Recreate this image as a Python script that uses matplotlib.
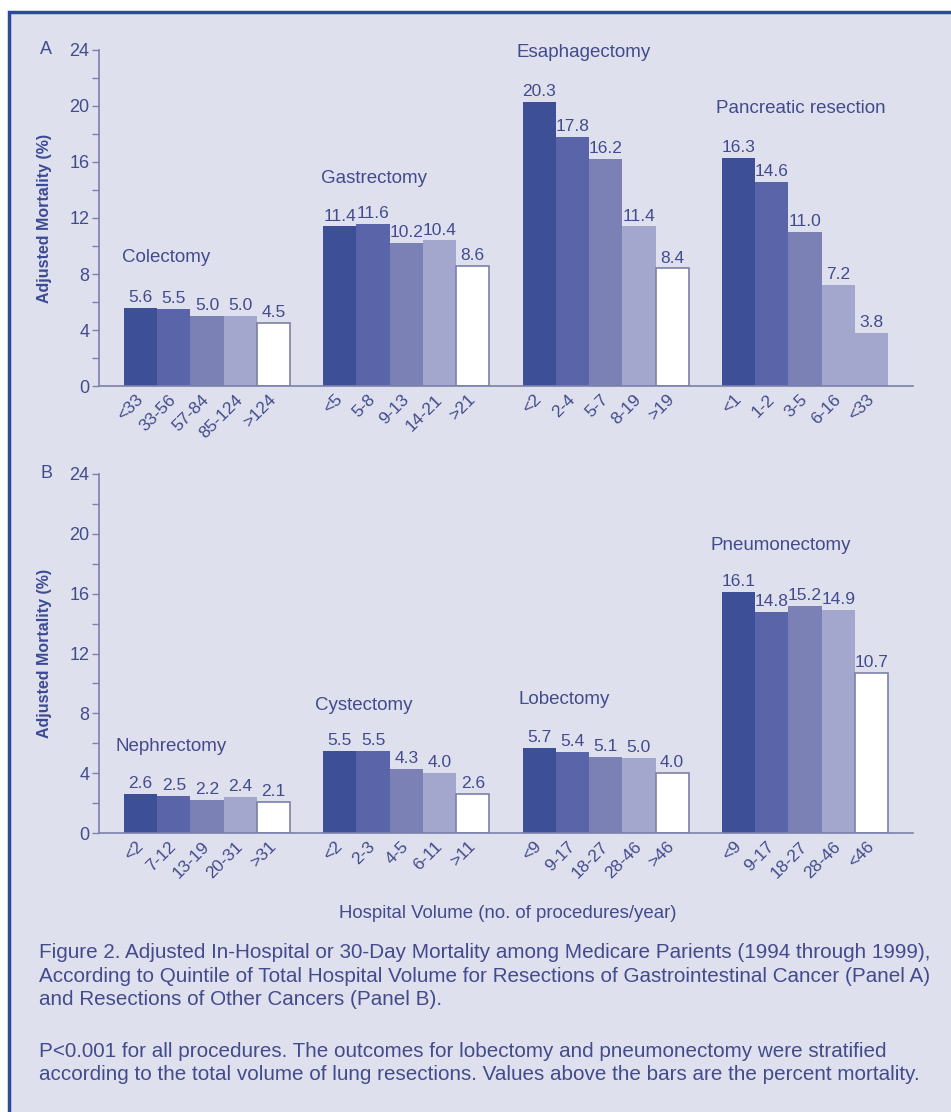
import matplotlib
matplotlib.use("Agg")
import matplotlib.pyplot as plt
import matplotlib.patches as patches
import numpy as np

plt.rcParams['font.family'] = ['Liberation Sans', 'DejaVu Sans']

# panel A - gastrointestinal resections
a_procs = ['Colectomy', 'Gastrectomy', 'Esaphagectomy', 'Pancreatic resection']
a_ticks = [['<33', '33-56', '57-84', '85-124', '>124'],
           ['<5', '5-8', '9-13', '14-21', '>21'],
           ['<2', '2-4', '5-7', '8-19', '>19'],
           ['<1', '1-2', '3-5', '6-16', '<33']]
a_vals = [[5.6, 5.5, 5.0, 5.0, 4.5],
          [11.4, 11.6, 10.2, 10.4, 8.6],
          [20.3, 17.8, 16.2, 11.4, 8.4],
          [16.3, 14.6, 11.0, 7.2, 3.8]]
a_last_white = [True, True, True, False]

# panel B - other cancers
b_procs = ['Nephrectomy', 'Cystectomy', 'Lobectomy', 'Pneumonectomy']
b_ticks = [['<2', '7-12', '13-19', '20-31', '>31'],
           ['<2', '2-3', '4-5', '6-11', '>11'],
           ['<9', '9-17', '18-27', '28-46', '>46'],
           ['<9', '9-17', '18-27', '28-46', '<46']]
b_vals = [[2.6, 2.5, 2.2, 2.4, 2.1],
          [5.5, 5.5, 4.3, 4.0, 2.6],
          [5.7, 5.4, 5.1, 5.0, 4.0],
          [16.1, 14.8, 15.2, 14.9, 10.7]]
b_last_white = [True, True, True, True]

# title placement (offset from group start, height)
a_title_pos = [(-0.05, 9.15), (-0.06, 14.85), (-0.19, 23.8), (-0.17, 19.8)]
b_title_pos = [(-0.24, 5.8), (-0.25, 8.55), (-0.13, 8.9), (-0.35, 19.25)]

bg = '#dfe0ee'
txt = '#434b8c'
axc = '#7c80aa'
shades = ['#3d4f97', '#5a64a8', '#7b80b5', '#a3a7cd']

fig = plt.figure(figsize=(9.51, 11.12), dpi=100, facecolor='white')
fig.patches.append(patches.Rectangle((9/951, -0.05), 1.2, 1.05 - 12/1112,
                                     transform=fig.transFigure, facecolor=bg,
                                     edgecolor='#2c4a9c', lw=2.5, zorder=-10))


def panel(ax, procs, ticks, vals, last_white, title_pos, letter):
    ax.set_facecolor('none')
    xs, labs = [], []
    for g in range(len(procs)):
        start = 0.75 + 6 * g
        for i, v in enumerate(vals[g]):
            x = start + i + 0.5
            if i == 4 and last_white[g]:
                ax.bar(x, v, width=1.0, color='white', edgecolor=axc, lw=1.2)
            else:
                ax.bar(x, v, width=1.0, color=shades[min(i, 3)], lw=0)
            ax.annotate('%.1f' % v, (x, v), xytext=(0, 2), textcoords='offset points',
                        ha='center', va='bottom', fontsize=12.5, color=txt)
            xs.append(x)
            labs.append(ticks[g][i])
        dx, ty = title_pos[g]
        ax.text(start + dx, ty, procs[g], ha='left', va='center', fontsize=13.5, color=txt)
    ax.set_xlim(0, 24.5)
    ax.set_ylim(0, 24)
    ax.set_xticks(xs)
    ax.set_xticklabels(labs, rotation=45, ha='right', va='center', rotation_mode='anchor',
                       fontsize=12.5, color=txt)
    ax.tick_params(axis='x', length=0, pad=8)
    ax.set_yticks(np.arange(0, 25, 4))
    ax.set_yticks(np.arange(2, 24, 4), minor=True)
    ax.tick_params(axis='y', which='both', length=5, width=1, color=axc,
                   labelsize=13, labelcolor=txt, pad=2)
    for s in ['top', 'right']:
        ax.spines[s].set_visible(False)
    for s in ['left', 'bottom']:
        ax.spines[s].set_color(axc)
        ax.spines[s].set_linewidth(1.2)
    ax.set_ylabel('Adjusted Mortality (%)', fontsize=11.5, fontweight='bold', color='#3b4a92',
                  labelpad=12)
    ax.text(-0.065, 1.0, letter, transform=ax.transAxes, ha='center', va='center',
            fontsize=13, color=txt)


axA = fig.add_axes([99/951, 1 - 386/1112, 814/951, 336/1112])
panel(axA, a_procs, a_ticks, a_vals, a_last_white, a_title_pos, 'A')
axB = fig.add_axes([99/951, 1 - 833/1112, 814/951, 359/1112])
panel(axB, b_procs, b_ticks, b_vals, b_last_white, b_title_pos, 'B')

fig.text(508/951, 1 - 914/1112, 'Hospital Volume (no. of procedures/year)',
         ha='center', va='center', fontsize=13.4, color=txt)

cap1 = ('Figure 2. Adjusted In-Hospital or 30-Day Mortality among Medicare Parients (1994 through 1999),\n'
        'According to Quintile of Total Hospital Volume for Resections of Gastrointestinal Cancer (Panel A)\n'
        'and Resections of Other Cancers (Panel B).')
cap2 = ('P<0.001 for all procedures. The outcomes for lobectomy and pneumonectomy were stratified\n'
        'according to the total volume of lung resections. Values above the bars are the percent mortality.')
fig.text(39/951, 1 - 943/1112, cap1, ha='left', va='top', fontsize=14.9, color=txt,
         linespacing=1.3)
fig.text(39/951, 1 - 1042/1112, cap2, ha='left', va='top', fontsize=14.9, color=txt,
         linespacing=1.3)

fig.savefig('out.png', dpi=100, facecolor=fig.get_facecolor())
